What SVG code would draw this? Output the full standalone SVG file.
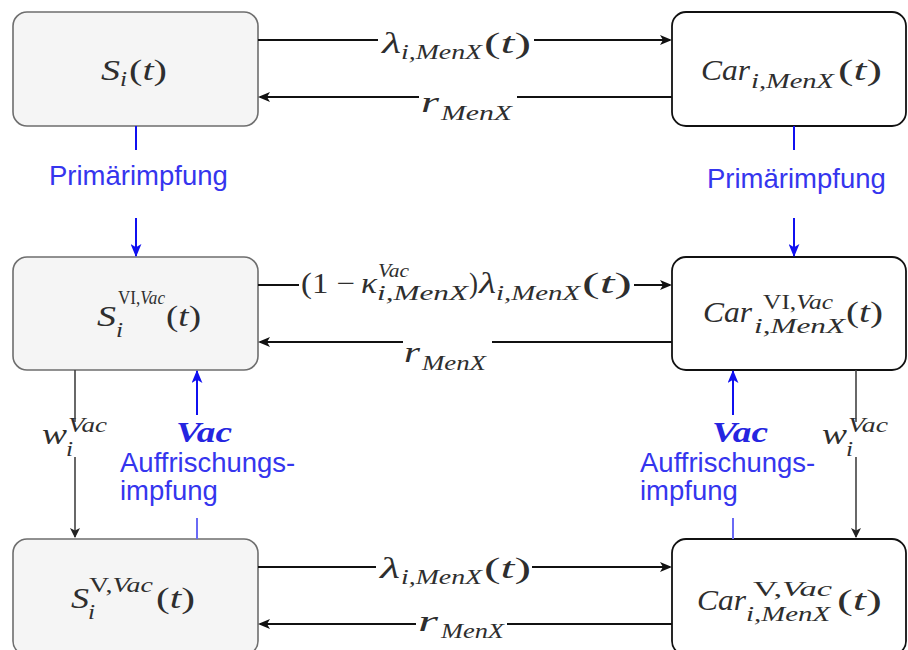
<svg xmlns="http://www.w3.org/2000/svg" width="908" height="650" viewBox="0 0 908 650">
<defs>
<style>
.bxl{fill:#f5f5f5;stroke:#6e6e6e;stroke-width:1.6}
.bxr{fill:#ffffff;stroke:#111;stroke-width:1.8}
.m{font-family:"Liberation Serif","Times New Roman",serif;font-size:29px;fill:#2e2e2e}
.s{font-size:20px}
.ss{font-size:18px}
.i{font-style:italic}
.e{fill:none;stroke:#111;stroke-width:2}
.v{fill:none;stroke:#444;stroke-width:1.6}
.b{fill:none;stroke:#1010f0;stroke-width:2}
.bl{fill:none;stroke:#6a6af5;stroke-width:2}
.bt{font-family:"Liberation Sans",Arial,sans-serif;font-size:27.5px;fill:#3535ee}
.bv{font-family:"Liberation Serif","Times New Roman",serif;font-size:30px;font-style:italic;font-weight:bold;fill:#2525e0}
</style>
<marker id="ah" viewBox="0 0 12 10" refX="10" refY="5" markerWidth="12" markerHeight="10" markerUnits="userSpaceOnUse" orient="auto"><path d="M0,0 L12,5 L0,10 L3,5 Z" fill="#111"/></marker>
<marker id="av" viewBox="0 0 10 10" refX="9" refY="5" markerWidth="10" markerHeight="10" markerUnits="userSpaceOnUse" orient="auto"><path d="M0,0 L10,5 L0,10 L2.5,5 Z" fill="#222"/></marker>
<marker id="ab" viewBox="0 0 12 10" refX="11" refY="5" markerWidth="13" markerHeight="11" markerUnits="userSpaceOnUse" orient="auto"><path d="M0,0 L12,5 L0,10 L3,5 Z" fill="#1010f0"/></marker>
</defs>
<rect width="908" height="650" fill="#ffffff"/>

<g id="node-S">
<rect class="bxl" x="13" y="12" width="245" height="114" rx="14"/>
<text class="m i" x="101" y="80" textLength="19" lengthAdjust="spacingAndGlyphs">S</text>
<text class="m s i" x="120" y="86" textLength="7" lengthAdjust="spacingAndGlyphs">i</text>
<text class="m" x="129" y="80" textLength="38" lengthAdjust="spacingAndGlyphs">(<tspan class="i">t</tspan>)</text>
</g>

<g id="node-Car">
<rect class="bxr" x="672" y="12" width="234" height="114" rx="14"/>
<text class="m i" x="701" y="80" textLength="49" lengthAdjust="spacingAndGlyphs">Car</text>
<text class="m s i" x="751" y="88" textLength="83" lengthAdjust="spacingAndGlyphs">i,MenX</text>
<text class="m" x="838" y="80" textLength="44" lengthAdjust="spacingAndGlyphs">(<tspan class="i">t</tspan>)</text>
</g>

<g id="node-S-VI">
<rect class="bxl" x="13" y="257" width="245" height="113" rx="14"/>
<text class="m i" x="97" y="326" textLength="19" lengthAdjust="spacingAndGlyphs">S</text>
<text class="m ss" x="118" y="304" textLength="47" lengthAdjust="spacingAndGlyphs">VI,<tspan class="i">Vac</tspan></text>
<text class="m s i" x="116" y="337" textLength="7" lengthAdjust="spacingAndGlyphs">i</text>
<text class="m" x="166" y="326" textLength="35" lengthAdjust="spacingAndGlyphs">(<tspan class="i">t</tspan>)</text>
</g>

<g id="node-Car-VI">
<rect class="bxr" x="672" y="257" width="234" height="113" rx="14"/>
<text class="m i" x="703" y="322" textLength="49" lengthAdjust="spacingAndGlyphs">Car</text>
<text class="m s" x="763" y="309" textLength="70" lengthAdjust="spacingAndGlyphs">VI,<tspan class="i">Vac</tspan></text>
<text class="m s i" x="754" y="333" textLength="91" lengthAdjust="spacingAndGlyphs">i,MenX</text>
<text class="m" x="846" y="322" textLength="37" lengthAdjust="spacingAndGlyphs">(<tspan class="i">t</tspan>)</text>
</g>

<g id="node-S-V">
<rect class="bxl" x="13" y="539" width="245" height="116" rx="14"/>
<text class="m i" x="71" y="608" textLength="18" lengthAdjust="spacingAndGlyphs">S</text>
<text class="m s" x="89" y="592" textLength="64" lengthAdjust="spacingAndGlyphs">V,<tspan class="i">Vac</tspan></text>
<text class="m s i" x="88" y="619" textLength="7" lengthAdjust="spacingAndGlyphs">i</text>
<text class="m" x="156" y="608" textLength="39" lengthAdjust="spacingAndGlyphs">(<tspan class="i">t</tspan>)</text>
</g>

<g id="node-Car-V">
<rect class="bxr" x="672" y="539" width="234" height="116" rx="14"/>
<text class="m i" x="697" y="610" textLength="49" lengthAdjust="spacingAndGlyphs">Car</text>
<text class="m s" x="753" y="596" textLength="79" lengthAdjust="spacingAndGlyphs">V,<tspan class="i">Vac</tspan></text>
<text class="m s i" x="746" y="621" textLength="84" lengthAdjust="spacingAndGlyphs">i,MenX</text>
<text class="m" x="837" y="610" textLength="45" lengthAdjust="spacingAndGlyphs">(<tspan class="i">t</tspan>)</text>
</g>

<g id="connectors">
<path class="e" d="M258,40 H378 M534,40 H670" marker-end="url(#ah)"/>
<path class="e" d="M672,97 H517 M419,97 H260" marker-end="url(#ah)"/>
<path class="e" d="M258,285 H299 M634,285 H670" marker-end="url(#ah)"/>
<path class="e" d="M672,342 H492 M403,342 H260" marker-end="url(#ah)"/>
<path class="e" d="M258,567 H376 M532,567 H670" marker-end="url(#ah)"/>
<path class="e" d="M672,624 H507 M416,624 H260" marker-end="url(#ah)"/>
<path class="v" d="M75,370 V422 M75,457 V537" marker-end="url(#av)"/>
<path class="v" d="M856,370 V422 M856,457 V537" marker-end="url(#av)"/>

<text class="m i" x="382" y="53" textLength="19" lengthAdjust="spacingAndGlyphs">λ</text>
<text class="m s i" x="401" y="59" textLength="81" lengthAdjust="spacingAndGlyphs">i,MenX</text>
<text class="m" x="484" y="53" textLength="47" lengthAdjust="spacingAndGlyphs">(<tspan class="i">t</tspan>)</text>

<text class="m i" x="421" y="112" textLength="18" lengthAdjust="spacingAndGlyphs">r</text>
<text class="m s i" x="441" y="120" textLength="71" lengthAdjust="spacingAndGlyphs">MenX</text>

<text class="m" x="301" y="293" textLength="54" lengthAdjust="spacingAndGlyphs">(1 −</text>
<text class="m i" x="361" y="293" textLength="16" lengthAdjust="spacingAndGlyphs">κ</text>
<text class="m ss i" x="378" y="277" textLength="31" lengthAdjust="spacingAndGlyphs">Vac</text>
<text class="m s i" x="377" y="300" textLength="91" lengthAdjust="spacingAndGlyphs">i,MenX</text>
<text class="m" x="469" y="293" textLength="9" lengthAdjust="spacingAndGlyphs">)</text>
<text class="m i" x="479" y="293" textLength="17" lengthAdjust="spacingAndGlyphs">λ</text>
<text class="m s i" x="496" y="300" textLength="84" lengthAdjust="spacingAndGlyphs">i,MenX</text>
<text class="m" x="582" y="293" textLength="50" lengthAdjust="spacingAndGlyphs">(<tspan class="i">t</tspan>)</text>

<text class="m i" x="404" y="362" textLength="16" lengthAdjust="spacingAndGlyphs">r</text>
<text class="m s i" x="422" y="370" textLength="64" lengthAdjust="spacingAndGlyphs">MenX</text>

<text class="m i" x="380" y="578" textLength="20" lengthAdjust="spacingAndGlyphs">λ</text>
<text class="m s i" x="401" y="584" textLength="81" lengthAdjust="spacingAndGlyphs">i,MenX</text>
<text class="m" x="484" y="578" textLength="47" lengthAdjust="spacingAndGlyphs">(<tspan class="i">t</tspan>)</text>

<text class="m i" x="418" y="631" textLength="20" lengthAdjust="spacingAndGlyphs">r</text>
<text class="m s i" x="441" y="638" textLength="63" lengthAdjust="spacingAndGlyphs">MenX</text>

<text class="m i" x="42" y="444" textLength="25" lengthAdjust="spacingAndGlyphs">w</text>
<text class="m s i" x="68" y="432" textLength="39" lengthAdjust="spacingAndGlyphs">Vac</text>
<text class="m s i" x="66" y="456" textLength="7" lengthAdjust="spacingAndGlyphs">i</text>

<text class="m i" x="822" y="444" textLength="25" lengthAdjust="spacingAndGlyphs">w</text>
<text class="m s i" x="848" y="432" textLength="40" lengthAdjust="spacingAndGlyphs">Vac</text>
<text class="m s i" x="846" y="456" textLength="7" lengthAdjust="spacingAndGlyphs">i</text>
</g>

<g id="vaccination">
<path class="b" d="M136,126 V150"/>
<path class="b" d="M136,218 V256" marker-end="url(#ab)"/>
<path class="b" d="M794,126 V150"/>
<path class="b" d="M794,218 V256" marker-end="url(#ab)"/>
<path class="b" d="M197,415 V371" marker-end="url(#ab)"/>
<path class="b" d="M733,415 V371" marker-end="url(#ab)"/>
<path class="bl" d="M197,518 V539"/>
<path class="bl" d="M733,518 V539"/>
<text class="bt" x="49" y="185">Primärimpfung</text>
<text class="bt" x="707" y="188">Primärimpfung</text>
<text class="bv" x="176" y="442" textLength="56" lengthAdjust="spacingAndGlyphs">Vac</text>
<text class="bv" x="712" y="442" textLength="56" lengthAdjust="spacingAndGlyphs">Vac</text>
<text class="bt" x="120" y="472">Auffrischungs-</text>
<text class="bt" x="120" y="500">impfung</text>
<text class="bt" x="640" y="472">Auffrischungs-</text>
<text class="bt" x="640" y="500">impfung</text>
</g>
</svg>
